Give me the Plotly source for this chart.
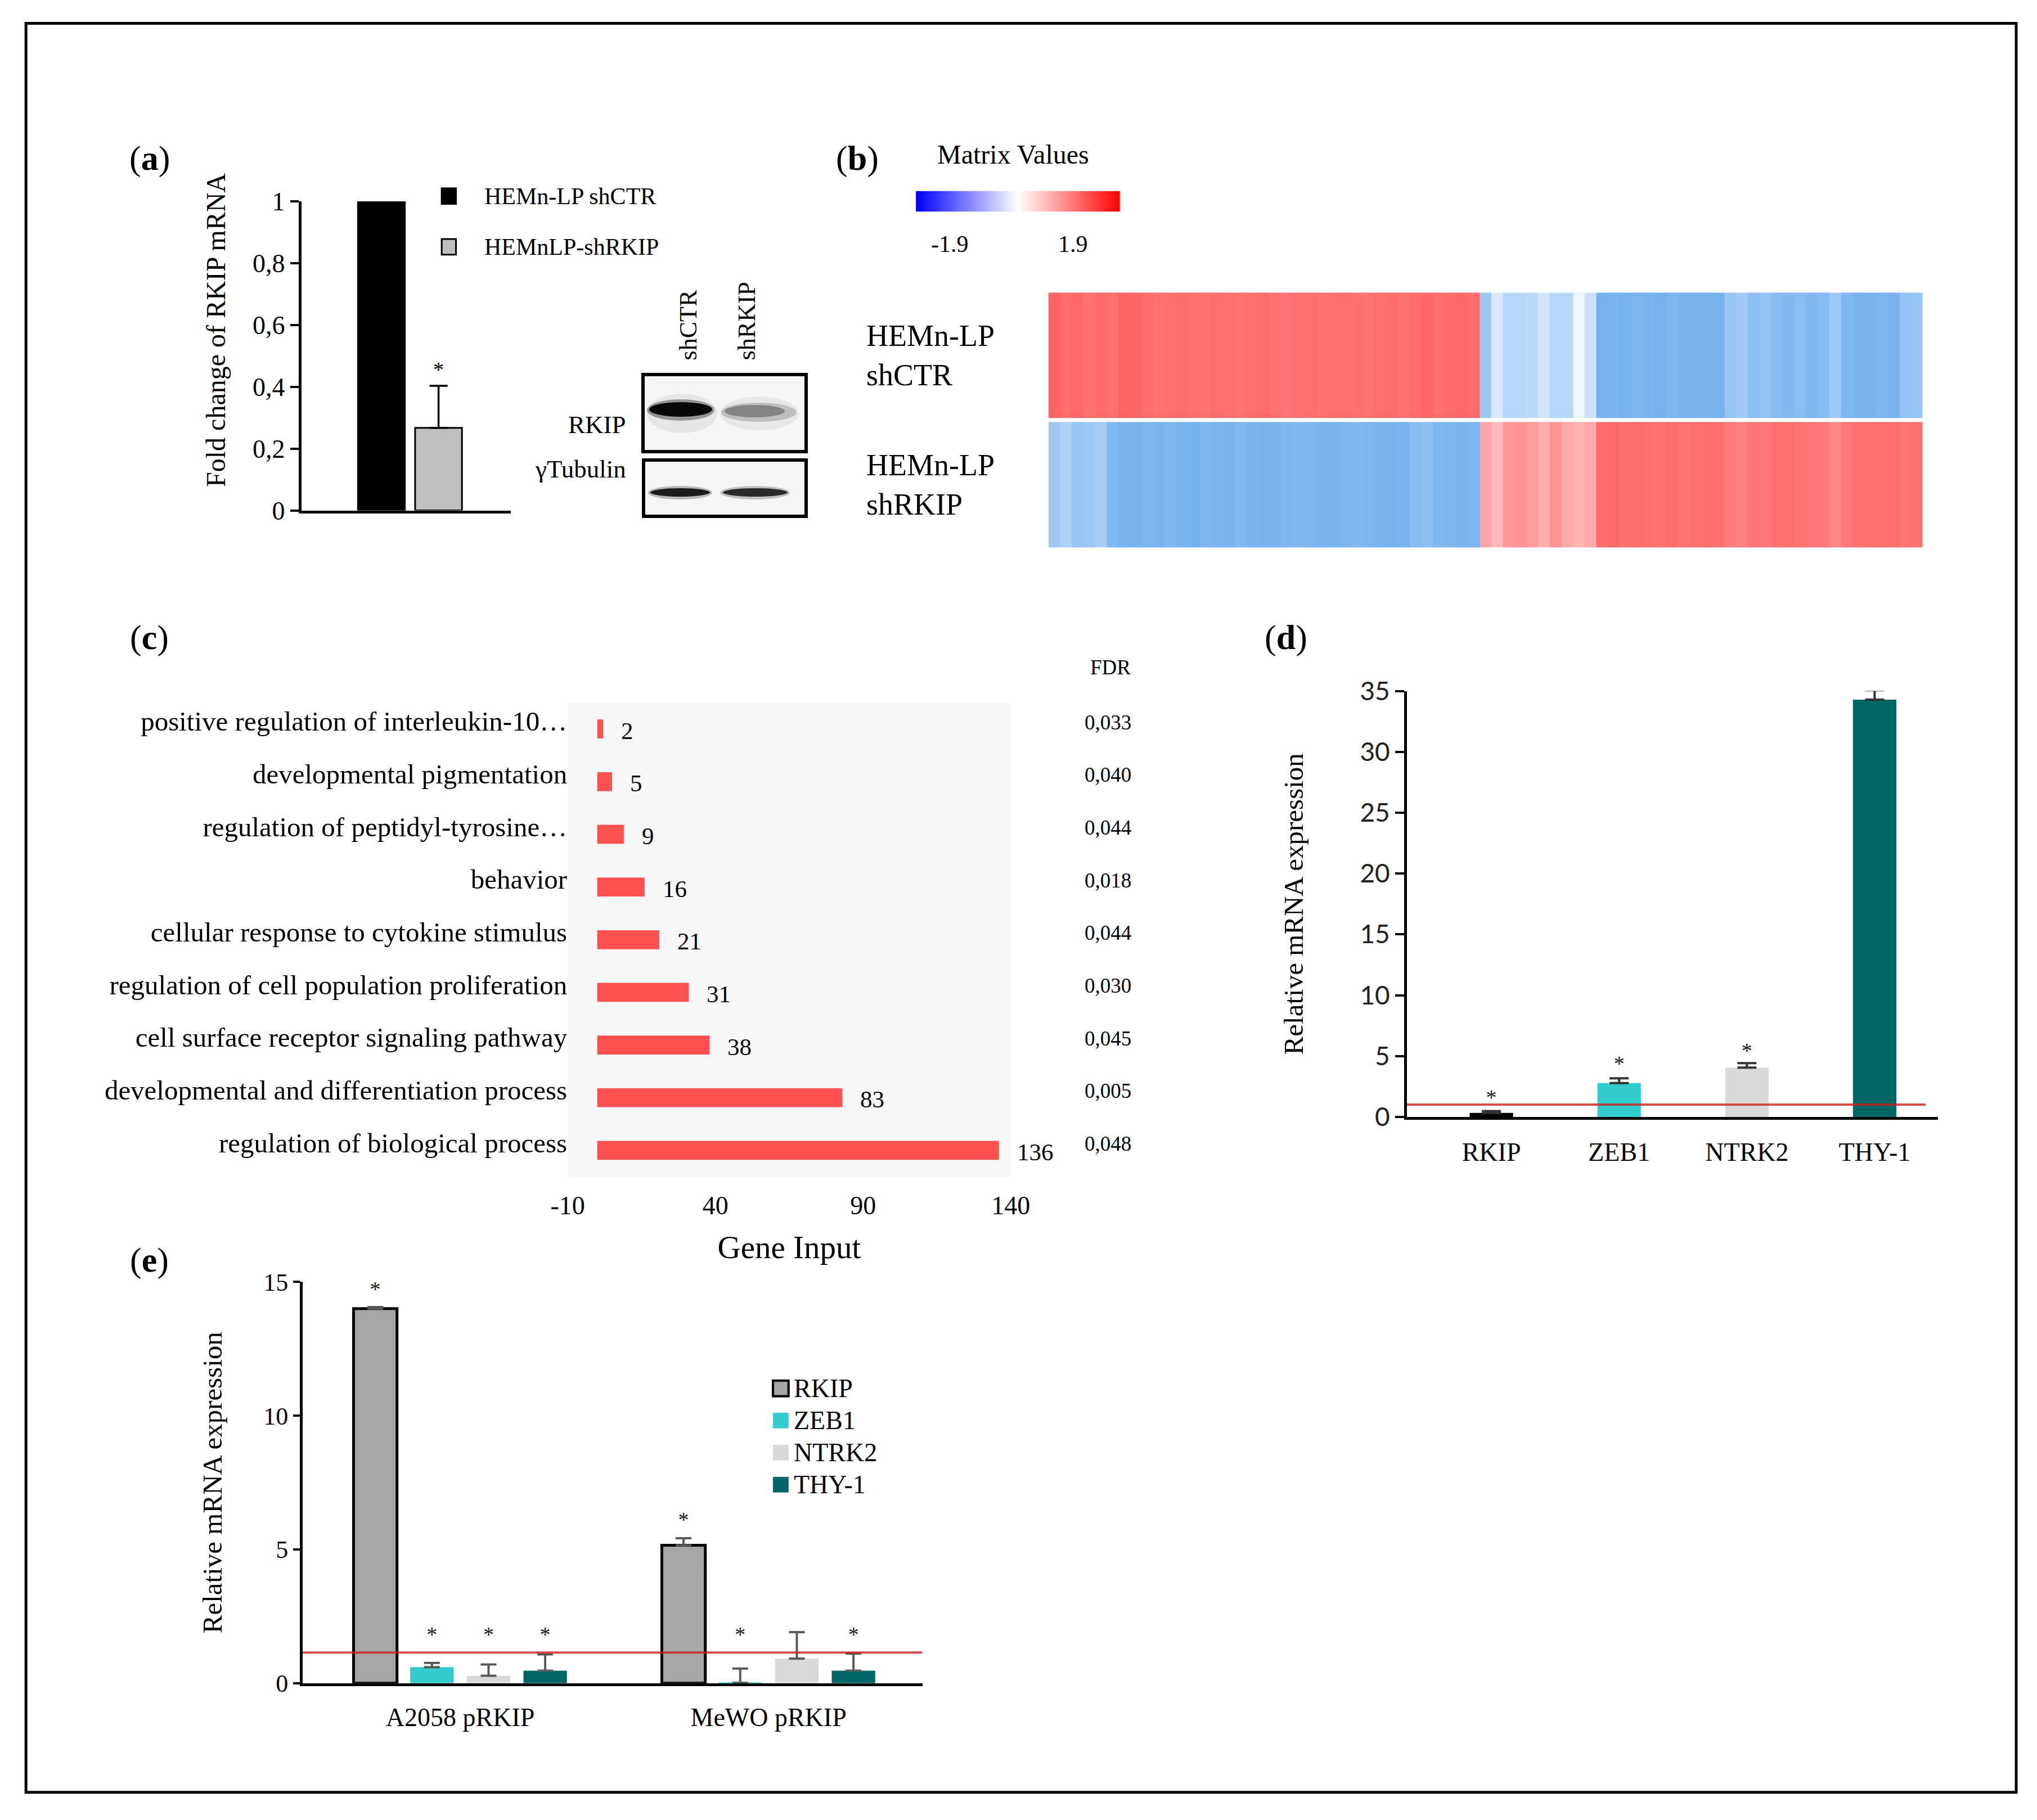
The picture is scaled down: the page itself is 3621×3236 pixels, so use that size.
import plotly.graph_objects as go

W, H = 3621, 3236
S = W / 1568.0  # reference-view px -> output px
OFF = 8  # page body offset in output px


def fx(x):
    return (x * S - OFF) / W


def fy(y):
    return 1 - (y * S - OFF) / H


def ox(x):
    return (x - OFF) / W


def oy(y):
    return 1 - (y - OFF) / H


SERIF = "Liberation Serif, Times New Roman, serif"
SANS = "Lato, Liberation Sans, sans-serif"

# ---------------- data ----------------
# (a) RKIP knock-down
a_groups = ["HEMn-LP shCTR", "HEMnLP-shRKIP"]
a_values = [1.0, 0.267]
a_err = [0.004, 0.136]
a_colors = ["#000000", "#BFBFBF"]
a_stars = ["", "*"]
a_star_y = [None, 0.45]
a_ytick_vals = [0, 0.2, 0.4, 0.6, 0.8, 1.0]
a_ytick_text = ["0", "0,2", "0,4", "0,6", "0,8", "1"]
a_ytitle = "Fold change of RKIP mRNA"
wb_lanes = ["shCTR", "shRKIP"]
wb_proteins = ["RKIP", "γTubulin"]

# (b) heatmap (matrix values per gene column)
b_rows = ["HEMn-LP<br>shRKIP", "HEMn-LP<br>shCTR"]
b_shctr = [1.28, 1.22, 1.25, 1.18, 1.24, 1.20, 1.30, 1.26, 1.22, 1.19, 1.21, 1.24, 1.20,
           1.17, 1.22, 1.19, 1.16, 1.20, 1.23, 1.18, 1.15, 1.19, 1.21, 1.17, 1.20, 1.22,
           1.18, 1.16, 1.20, 1.24, 1.19, 1.22, 1.26, 1.21, 1.23, 1.25, 1.22,
           -0.75, -0.30, -0.55, -0.55, -0.50, -0.35, -0.55, -0.55, -0.12, -0.40,
           -1.02, -1.00, -1.04, -0.98, -1.00, -1.03, -0.97, -1.00, -1.01, -1.00, -1.02,
           -0.78, -0.70, -0.85, -0.80, -0.90, -0.93, -0.88, -0.95, -0.90,
           -0.72, -0.95, -1.00, -1.02, -0.98, -1.00, -0.80, -0.78]
b_shrkip = [-0.72, -0.60, -0.78, -0.74, -0.66, -0.95, -1.00, -1.02, -0.98, -1.00, -0.96,
            -1.00, -1.03, -0.97, -0.99, -1.00, -0.95, -1.00, -1.02, -1.00, -0.97, -0.94,
            -0.98, -1.00, -1.01, -0.97, -0.95, -0.98, -1.00, -1.02, -1.00, -0.90, -0.85,
            -0.95, -0.97, -1.00, -0.98,
            0.75, 0.60, 0.85, 0.90, 0.82, 0.68, 0.90, 0.72, 0.62, 0.70,
            1.22, 1.25, 1.20, 1.23, 1.20, 1.18, 1.22, 1.15, 1.20, 1.22, 1.18,
            1.10, 1.05, 1.15, 1.12, 1.18, 1.20, 1.16, 1.14, 1.10,
            1.00, 1.12, 1.18, 1.20, 1.22, 1.20, 1.15, 1.18]
b_scale_vals = [-1.9, 0.0, 1.9]
b_scale_labels = ["-1.9", "1.9"]

# (c) GO enrichment
c_terms = ["positive regulation of interleukin-10…",
           "developmental pigmentation",
           "regulation of peptidyl-tyrosine…",
           "behavior",
           "cellular response to cytokine stimulus",
           "regulation of cell population proliferation",
           "cell surface receptor signaling pathway",
           "developmental and differentiation process",
           "regulation of biological process"]
c_genes = [2, 5, 9, 16, 21, 31, 38, 83, 136]
c_fdr = ["0,033", "0,040", "0,044", "0,018", "0,044", "0,030", "0,045", "0,005", "0,048"]
c_xticks = [-10, 40, 90, 140]
c_xtick_text = ["-10", "40", "90", "140"]

# (d) HEMn-LP shRKIP qPCR
d_genes = ["RKIP", "ZEB1", "NTRK2", "THY-1"]
d_values = [0.34, 2.78, 4.05, 34.29]
d_err = [0.15, 0.40, 0.37, 0.77]
d_star_y = [1.45, 4.25, 5.3, 35.9]
d_colors = ["#000000", "#33CCCC", "#D9D9D9", "#006666"]
d_yticks = [0, 5, 10, 15, 20, 25, 30, 35]
d_baseline = 1.02

# (e) pRKIP overexpression
e_lines = ["A2058 pRKIP", "MeWO pRKIP"]
e_genes = ["RKIP", "ZEB1", "NTRK2", "THY-1"]
e_rkip = [14.0, 5.16]
e_zeb1 = [0.60, 0.02]
e_ntrk2 = [0.28, 0.92]
e_thy1 = [0.47, 0.47]
e_rkip_err = [0.06, 0.26]
e_zeb1_err = [0.16, 0.53]
e_ntrk2_err = [0.42, 0.99]
e_thy1_err = [0.61, 0.64]
e_rkip_star = [14.65, 6.05]
e_zeb1_star = [1.75, 1.75]
e_ntrk2_star = [1.75, None]
e_thy1_star = [1.75, 1.75]
e_colors = ["#A6A6A6", "#33CCCC", "#D9D9D9", "#006666"]
e_yticks = [0, 5, 10, 15]
e_baseline = 1.15

fig = go.Figure()
ann = []
shapes = []

# ---------------- (a) ----------------
a_x = list(range(len(a_groups)))
fig.add_trace(go.Bar(
    x=a_x, y=a_values, width=0.82, xaxis="x", yaxis="y",
    marker=dict(color=a_colors, line=dict(color="black", width=3)),
    error_y=dict(type="data", symmetric=False, array=a_err, arrayminus=[0] * len(a_err),
                 color="black", thickness=3.5, width=16),
    showlegend=False, hoverinfo="skip"))
fig.add_trace(go.Scatter(
    x=a_x, y=a_star_y, text=a_stars, mode="text", textposition="middle center",
    textfont=dict(size=38, family=SERIF, color="black"), xaxis="x", yaxis="y",
    cliponaxis=False, showlegend=False, hoverinfo="skip"))
ann.append(dict(text=a_ytitle, x=fx(166), y=fy(254), xref="paper", yref="paper",
                xanchor="center", yanchor="middle", textangle=-90, showarrow=False,
                font=dict(size=48, family=SERIF)))

# legend (a)
for i, (name, col) in enumerate(zip(a_groups, a_colors)):
    yc = 151 + 39 * i
    shapes.append(dict(type="rect", xref="paper", yref="paper",
                       x0=fx(340), x1=fx(351), y0=fy(yc + 6), y1=fy(yc - 6),
                       fillcolor=col, line=dict(color="black", width=3)))
    ann.append(dict(text=name, x=fx(372), y=fy(yc), xref="paper", yref="paper",
                    xanchor="left", yanchor="middle", showarrow=False,
                    font=dict(size=42, family=SERIF)))

# western blot (image-like)
for x0, x1, y0, y1 in [(1143, 1433, 666, 803), (1144, 1433, 818, 918)]:
    shapes.append(dict(type="rect", xref="paper", yref="paper",
                       x0=ox(x0), x1=ox(x1), y0=oy(y1), y1=oy(y0),
                       fillcolor="#F5F5F5", line=dict(color="black", width=6)))
bands = [
    # x0, x1, y0, y1, colour
    (1150, 1275, 700, 770, "rgba(0,0,0,0.06)"),
    (1150, 1270, 710, 748, "rgba(0,0,0,0.35)"),
    (1154, 1266, 715, 741, "rgba(0,0,0,0.95)"),
    (1280, 1420, 705, 765, "rgba(0,0,0,0.05)"),
    (1282, 1416, 716, 750, "rgba(0,0,0,0.18)"),
    (1288, 1395, 720, 742, "rgba(0,0,0,0.30)"),
    (1152, 1266, 864, 888, "rgba(0,0,0,0.25)"),
    (1156, 1262, 868, 883, "rgba(0,0,0,0.85)"),
    (1280, 1404, 864, 888, "rgba(0,0,0,0.22)"),
    (1285, 1400, 868, 883, "rgba(0,0,0,0.78)"),
]
for x0, x1, y0, y1, c in bands:
    shapes.append(dict(type="circle", xref="paper", yref="paper",
                       x0=ox(x0), x1=ox(x1), y0=oy(y1), y1=oy(y0),
                       fillcolor=c, line=dict(width=0)))
for lane, xc in zip(wb_lanes, [530, 575]):
    ann.append(dict(text=lane, x=fx(xc), y=fy(278), xref="paper", yref="paper",
                    xanchor="center", yanchor="bottom", textangle=-90, showarrow=False,
                    font=dict(size=44, family=SERIF)))
for prot, yc in zip(wb_proteins, [327, 361]):
    ann.append(dict(text=prot, x=fx(483), y=fy(yc), xref="paper", yref="paper",
                    xanchor="right", yanchor="middle", showarrow=False,
                    font=dict(size=45, family=SERIF)))

# ---------------- (b) ----------------
fig.add_trace(go.Heatmap(
    z=[b_shrkip, b_shctr], y=[0, 1], xaxis="x2", yaxis="y2",
    colorscale=[[0, "#0270E2"], [0.5, "#FFFFFF"], [1, "#FF1A1A"]],
    zmin=-1.9, zmax=1.9, showscale=False, ygap=7, hoverinfo="skip"))
for i, lab in enumerate(b_rows):
    ann.append(dict(text=lab, x=fx(666), y=i, xref="paper", yref="y2",
                    xanchor="left", yanchor="middle", align="left", showarrow=False,
                    font=dict(size=54, family=SERIF)))
# colour scale legend
fig.add_trace(go.Heatmap(
    z=[b_scale_vals, b_scale_vals], x=[0, 1, 2], y=[0, 1], xaxis="x6", yaxis="y6",
    colorscale=[[0, "#0000FF"], [0.5, "#FFFFFF"], [1, "#FF0000"]],
    zmin=-1.9, zmax=1.9, zsmooth="best", showscale=False, hoverinfo="skip"))
ann.append(dict(text="Matrix Values", x=fx(780), y=fy(119), xref="paper", yref="paper",
                xanchor="center", yanchor="middle", showarrow=False,
                font=dict(size=48, family=SERIF)))
for lab, xc in zip(b_scale_labels, [731, 826]):
    ann.append(dict(text=lab, x=fx(xc), y=fy(188), xref="paper", yref="paper",
                    xanchor="center", yanchor="middle", showarrow=False,
                    font=dict(size=42, family=SERIF)))

# ---------------- (c) ----------------
fig.add_trace(go.Bar(
    y=c_terms, x=c_genes, orientation="h", width=0.36, xaxis="x3", yaxis="y3",
    marker=dict(color="#FF5050", line=dict(width=0)), showlegend=False, hoverinfo="skip"))
shapes.append(dict(type="rect", xref="x3 domain", yref="y3 domain", x0=0, x1=1, y0=0, y1=1,
                   fillcolor="#F7F7F7", line=dict(width=0), layer="below"))
for term, g, fdr in zip(c_terms, c_genes, c_fdr):
    ann.append(dict(text=str(g), x=g, y=term, xref="x3", yref="y3", xanchor="left",
                    yanchor="middle", xshift=30, yshift=-3, showarrow=False,
                    font=dict(size=43, family=SERIF)))
    ann.append(dict(text=fdr, x=fx(853), y=term, xref="paper", yref="y3", xanchor="center",
                    yanchor="middle", yshift=12, showarrow=False,
                    font=dict(size=37, family=SERIF)))
ann.append(dict(text="FDR", x=fx(855), y=fy(514), xref="paper", yref="paper",
                xanchor="center", yanchor="middle", showarrow=False,
                font=dict(size=37, family=SERIF)))

# ---------------- (d) ----------------
fig.add_trace(go.Bar(
    x=d_genes, y=d_values, width=0.34, xaxis="x4", yaxis="y4",
    marker=dict(color=d_colors, line=dict(width=0)),
    error_y=dict(type="data", symmetric=False, array=d_err, arrayminus=[0] * len(d_err),
                 color="#333333", thickness=4, width=17),
    showlegend=False, hoverinfo="skip"))
fig.add_trace(go.Scatter(
    x=d_genes, y=d_star_y, text=["*"] * len(d_genes), mode="text",
    textposition="middle center", textfont=dict(size=38, family=SERIF, color="#222222"),
    xaxis="x4", yaxis="y4", cliponaxis=False, showlegend=False, hoverinfo="skip"))
shapes.append(dict(type="line", xref="x4 domain", yref="y4", x0=0, x1=0.976,
                   y0=d_baseline, y1=d_baseline, line=dict(color="rgba(205,30,30,0.8)", width=4)))

# ---------------- (e) ----------------
e_series = [(e_rkip, e_rkip_err, e_rkip_star),
            (e_zeb1, e_zeb1_err, e_zeb1_star),
            (e_ntrk2, e_ntrk2_err, e_ntrk2_star),
            (e_thy1, e_thy1_err, e_thy1_star)]
slot = 0.1837
for j, (gene, col, (vals, errs, stars)) in enumerate(zip(e_genes, e_colors, e_series)):
    xs = [i + (j - 1.5) * slot for i in range(len(e_lines))]
    fig.add_trace(go.Bar(
        x=xs, y=vals, width=0.141, xaxis="x5", yaxis="y5", name=gene,
        marker=dict(color=col, line=dict(color="black", width=5 if j == 0 else 0)),
        error_y=dict(type="data", symmetric=False, array=errs, arrayminus=[0] * len(errs),
                     color="#595959", thickness=4, width=14),
        showlegend=False, hoverinfo="skip"))
    fig.add_trace(go.Scatter(
        x=xs, y=stars, text=["*"] * len(xs), mode="text", textposition="middle center",
        textfont=dict(size=38, family=SERIF, color="#222222"), xaxis="x5", yaxis="y5",
        cliponaxis=False, showlegend=False, hoverinfo="skip"))
    yc = 1069 + 24.7 * j
    shapes.append(dict(type="rect", xref="paper", yref="paper",
                       x0=fx(595), x1=fx(607), y0=fy(yc + 6), y1=fy(yc - 6),
                       fillcolor=col,
                       line=dict(color="black" if j == 0 else col, width=4 if j == 0 else 0)))
    ann.append(dict(text=gene, x=fx(610), y=fy(yc), xref="paper", yref="paper",
                    xanchor="left", yanchor="middle", showarrow=False,
                    font=dict(size=46, family=SERIF)))
shapes.append(dict(type="line", xref="x5 domain", yref="y5", x0=0, x1=1,
                   y0=e_baseline, y1=e_baseline, line=dict(color="rgba(205,30,30,0.8)", width=4)))

# ---------------- panel labels & frame ----------------
for lab, (xc, yc) in zip(["a", "b", "c", "d", "e"],
                         [(115, 122), (660, 122), (115, 491), (990, 491), (115, 970)]):
    ann.append(dict(text="(<b>%s</b>)" % lab, x=fx(xc), y=fy(yc), xref="paper", yref="paper",
                    xanchor="center", yanchor="middle", showarrow=False,
                    font=dict(size=62, family=SERIF)))
shapes.append(dict(type="rect", xref="paper", yref="paper", x0=fx(20), x1=fx(1552),
                   y0=fy(1380), y1=fy(18), line=dict(color="black", width=5)))

axis_font = dict(size=46, family=SERIF, color="black")
fig.update_layout(
    template="none",
    width=W, height=H, margin=dict(l=0, r=0, t=0, b=0, pad=0, autoexpand=False),
    paper_bgcolor="white", plot_bgcolor="rgba(0,0,0,0)", showlegend=False,
    barmode="overlay", font=dict(family=SERIF, size=44, color="black"),
    annotations=ann, shapes=shapes,
    # (a)
    xaxis=dict(domain=[fx(232), fx(393)], range=[-1.40, 2.26], anchor="y", automargin=False,
               showticklabels=False, ticks="", showline=True, linecolor="black", linewidth=5,
               showgrid=False, zeroline=False),
    yaxis=dict(domain=[fy(393), fy(155)], range=[0, 1.0], anchor="x", automargin=False,
               tickvals=a_ytick_vals, ticktext=a_ytick_text, ticks="outside", ticklen=15,
               tickwidth=4, tickcolor="black", showline=True, linecolor="black", linewidth=5,
               showgrid=False, zeroline=False, tickfont=axis_font),
    # (b)
    xaxis2=dict(domain=[fx(807), fx(1480)], range=[-0.5, len(b_shctr) - 0.5], anchor="y2",
                visible=False),
    yaxis2=dict(domain=[fy(423), fy(224)], range=[-0.5, 1.5], anchor="x2", visible=False),
    # (c)
    xaxis3=dict(domain=[fx(437), fx(778)], range=[-10, 140], anchor="y3", automargin=False,
                tickvals=c_xticks, ticktext=c_xtick_text, ticks="", showline=False,
                showgrid=False, zeroline=False,
                tickfont=dict(size=46, family=SERIF), ticklabelstandoff=20,
                title=dict(text="Gene Input", standoff=28, font=dict(size=57, family=SERIF))),
    yaxis3=dict(domain=[fy(906), fy(541)], range=[len(c_terms) - 0.5, -0.5], anchor="x3",
                automargin=False, type="category", ticks="", showline=False, showgrid=False,
                zeroline=False, tickfont=dict(size=49, family=SERIF), ticklabelshift=14),
    # (d)
    xaxis4=dict(domain=[fx(1083), fx(1492)], range=[-0.661, 3.498], anchor="y4",
                automargin=False, ticks="", showline=True, linecolor="black", linewidth=5,
                showgrid=False, zeroline=False, tickfont=dict(size=46, family=SERIF),
                ticklabelstandoff=18),
    yaxis4=dict(domain=[fy(860), fy(532)], range=[0, 35], anchor="x4", tickvals=d_yticks,
                automargin=False, ticks="outside", ticklen=16, tickwidth=4, tickcolor="black",
                showline=True, linecolor="black", linewidth=5, showgrid=False, zeroline=False,
                tickfont=dict(size=46, family=SANS, color="#222222"),
                title=dict(text="Relative mRNA expression", standoff=87,
                           font=dict(size=49, family=SERIF))),
    # (e)
    xaxis5=dict(domain=[fx(233), fx(710)], range=[-0.511, 1.499], anchor="y5",
                automargin=False, tickvals=list(range(len(e_lines))), ticktext=e_lines,
                ticks="", showline=True, linecolor="black", linewidth=5, showgrid=False,
                zeroline=False, tickfont=dict(size=46, family=SERIF), ticklabelstandoff=16),
    yaxis5=dict(domain=[fy(1296), fy(987)], range=[0, 15], anchor="x5", tickvals=e_yticks,
                automargin=False, ticks="outside", ticklen=12, tickwidth=4, tickcolor="black",
                showline=True, linecolor="black", linewidth=5, showgrid=False, zeroline=False,
                tickfont=dict(size=44, family=SERIF),
                title=dict(text="Relative mRNA expression", standoff=60,
                           font=dict(size=49, family=SERIF))),
    # colour scale legend
    xaxis6=dict(domain=[fx(705), fx(862)], range=[0, 2], anchor="y6", visible=False),
    yaxis6=dict(domain=[fy(163), fy(147)], range=[0, 1], anchor="x6", visible=False),
)

fig.write_html("out.html")
